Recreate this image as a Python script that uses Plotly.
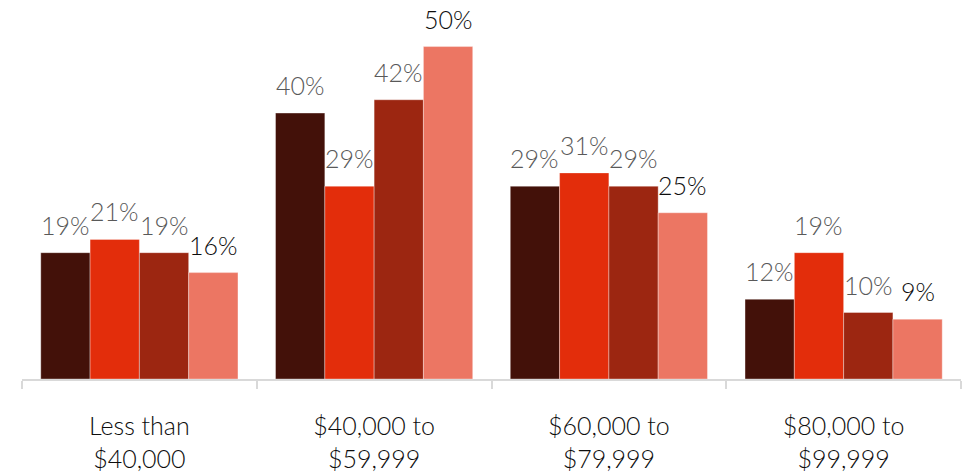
import plotly.graph_objects as go

# Income bands (x categories)
categories = ["Less than<br>$40,000", "$40,000 to<br>$59,999",
              "$60,000 to<br>$79,999", "$80,000 to<br>$99,999"]

# Share of respondents (%) for each of the four series
series_a = [19, 40, 29, 12]
series_b = [21, 29, 31, 19]
series_c = [19, 42, 29, 10]
series_d = [16, 50, 25, 9]

all_series = [series_a, series_b, series_c, series_d]
bar_colors = ["#431109", "#E32D0B", "#9C2611", "#EC7663"]
label_colors = ["#595959", "#595959", "#595959", "#0d0d0d"]

font_family = "Lato, 'Open Sans', sans-serif"
bargap = 0.16
n_series = len(all_series)
bar_w = (1 - bargap) / n_series

fig = go.Figure()
for i, vals in enumerate(all_series):
    fig.add_trace(go.Bar(
        x=categories, y=vals,
        marker=dict(color=bar_colors[i],
                    line=dict(color="rgba(255,255,255,0.35)", width=1)),
        showlegend=False,
        hoverinfo="skip",
    ))

# Value labels above each bar
annotations = []
for i, vals in enumerate(all_series):
    for j, v in enumerate(vals):
        annotations.append(dict(
            x=j + (i - (n_series - 1) / 2) * bar_w, y=v,
            xref="x", yref="y",
            text=f"{v}%", showarrow=False,
            yanchor="bottom", xanchor="center", yshift=11,
            font=dict(family=font_family, size=25, weight=300,
                      color=label_colors[i]),
        ))

fig.update_layout(
    width=974, height=476,
    margin=dict(l=22, r=13, t=10, b=97),
    paper_bgcolor="white", plot_bgcolor="white",
    barmode="group", bargap=bargap, bargroupgap=0,
    annotations=annotations,
    font=dict(family=font_family),
)
fig.update_xaxes(
    type="category", automargin=False,
    showline=True, linecolor="#d9d9d9", linewidth=2,
    ticks="outside", tickson="boundaries", ticklen=8, tickwidth=2,
    tickcolor="#d9d9d9",
    tickfont=dict(family=font_family, size=25, weight=300, color="#0d0d0d"),
    ticklabelstandoff=24,
    showgrid=False, zeroline=False,
)
fig.update_yaxes(
    range=[0, 55.5], visible=False, showgrid=False, zeroline=False,
)

fig.write_html("out.html")
